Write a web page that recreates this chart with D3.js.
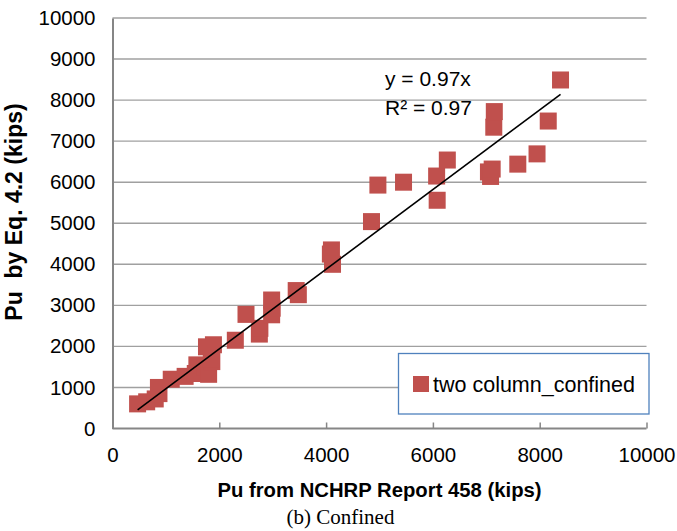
<!DOCTYPE html>
<html>
<head>
<meta charset="utf-8">
<script src="https://cdn.jsdelivr.net/npm/d3@7"></script>
<style>
  body { margin: 0; background: #fff; }
  svg { display: block; font-family: "Liberation Sans", Arial, sans-serif; }
</style>
</head>
<body>
<div id="chart"></div>
<script>
// values (kips)
const nchrp = [470, 640, 800, 870, 860, 1100, 1360, 1550, 1580, 1730, 1800, 1860, 1760, 1890, 1850,
  2300, 2500, 2750, 2760, 2980, 2990, 2980, 3440, 3480, 4100, 4080, 4120, 4850, 4970, 5450,
  6070, 6080, 6270, 7040, 7080, 7110, 7140, 7150, 7590, 7950, 8160, 8390];
const eq42 = [600, 650, 720, 850, 1000, 1200, 1270, 1340, 1550, 1500, 1320, 1630, 1990, 2040, 1700,
  2150, 2780, 2300, 2440, 2770, 2930, 3130, 3360, 3260, 4350, 4250, 4000, 5040, 5930, 6000,
  6150, 5560, 6540, 6250, 6140, 6320, 7340, 7720, 6440, 6690, 7490, 8490];
const xTicks = [0, 2000, 4000, 6000, 8000, 10000];
const yTicks = [0, 1000, 2000, 3000, 4000, 5000, 6000, 7000, 8000, 9000, 10000];
const slope = 0.97;
const seriesName = "two column_confined";

const width = 677, height = 531;
const x0 = 112.5, x1 = 646.5, yTop = 18, yBot = 428.5;
const red = "#c0504d";

const points = nchrp.map((v, i) => ({x: v, y: eq42[i]}));

const x = d3.scaleLinear().domain([0, 10000]).range([x0, x1]);
const y = d3.scaleLinear().domain([0, 10000]).range([yBot, yTop]);

const svg = d3.select("#chart").append("svg")
    .attr("width", width)
    .attr("height", height);

// gridlines
svg.append("g")
  .selectAll("line")
  .data(yTicks.slice(1))
  .join("line")
    .attr("x1", x0).attr("x2", x1)
    .attr("y1", d => y(d)).attr("y2", d => y(d))
    .attr("stroke", "#a0a0a0")
    .attr("stroke-width", 1.4);

// y axis
const yAxis = svg.append("g")
    .attr("transform", `translate(${x0},0)`)
    .call(d3.axisLeft(y).tickValues(yTicks).tickSize(0).tickPadding(17).tickFormat(d3.format("d")));
yAxis.select(".domain").attr("stroke", "#868686").attr("stroke-width", 2);
yAxis.selectAll("text").attr("font-size", "20.5px").attr("fill", "#000")
    .attr("font-family", "Liberation Sans, Arial, sans-serif");

// x axis
const xAxis = svg.append("g")
    .attr("transform", `translate(0,${yBot})`)
    .call(d3.axisTop(x).tickValues(xTicks).tickSize(6).tickFormat(d3.format("d")));
xAxis.select(".domain").attr("stroke", "#868686").attr("stroke-width", 2).attr("d", `M${x0},0H${x1}`);
xAxis.selectAll(".tick line").attr("stroke", "#868686").attr("stroke-width", 1.5);
xAxis.selectAll("text")
    .attr("y", 33).attr("dy", 0)
    .attr("font-size", "20.5px").attr("fill", "#000")
    .attr("font-family", "Liberation Sans, Arial, sans-serif");

// markers
const s = 17;
svg.append("g")
    .attr("fill", red)
  .selectAll("rect")
  .data(points)
  .join("rect")
    .attr("x", d => x(d.x) - s / 2)
    .attr("y", d => y(d.y) - s / 2)
    .attr("width", s)
    .attr("height", s);

// linear trendline through origin
const [xmin, xmax] = d3.extent(nchrp);
svg.append("line")
    .attr("x1", x(xmin)).attr("y1", y(slope * xmin))
    .attr("x2", x(xmax)).attr("y2", y(slope * xmax))
    .attr("stroke", "#000")
    .attr("stroke-width", 1.6);

// equation
const eq = svg.append("g").attr("font-size", "21px").attr("fill", "#000");
eq.append("text").attr("x", 385).attr("y", 86).text("y = 0.97x");
eq.append("text").attr("x", 385).attr("y", 115).text("R² = 0.97");

// legend
const lg = svg.append("g");
lg.append("rect")
    .attr("x", 398.5).attr("y", 353.5)
    .attr("width", 250.5).attr("height", 60.5)
    .attr("fill", "#fff")
    .attr("stroke", "#4f81bd")
    .attr("stroke-width", 1.3);
lg.append("rect")
    .attr("x", 413).attr("y", 376)
    .attr("width", 16).attr("height", 16)
    .attr("fill", red);
lg.append("text")
    .attr("x", 433).attr("y", 391.5)
    .attr("font-size", "21.5px")
    .text(seriesName);

// axis titles
svg.append("text")
    .attr("x", (x0 + x1) / 2).attr("y", 497)
    .attr("text-anchor", "middle")
    .attr("font-weight", "bold")
    .attr("font-size", "20.3px")
    .text("Pu from NCHRP Report 458 (kips)");

svg.append("text")
    .attr("transform", "translate(22,212) rotate(-90)")
    .attr("text-anchor", "middle")
    .attr("font-weight", "bold")
    .attr("font-size", "23px")
    .style("white-space", "pre")
    .text("Pu  by Eq. 4.2 (kips)");

// caption
svg.append("text")
    .attr("x", 340.5).attr("y", 524)
    .attr("text-anchor", "middle")
    .attr("font-family", "Liberation Serif, Times New Roman, serif")
    .attr("font-size", "21px")
    .text("(b) Confined");
</script>
</body>
</html>
